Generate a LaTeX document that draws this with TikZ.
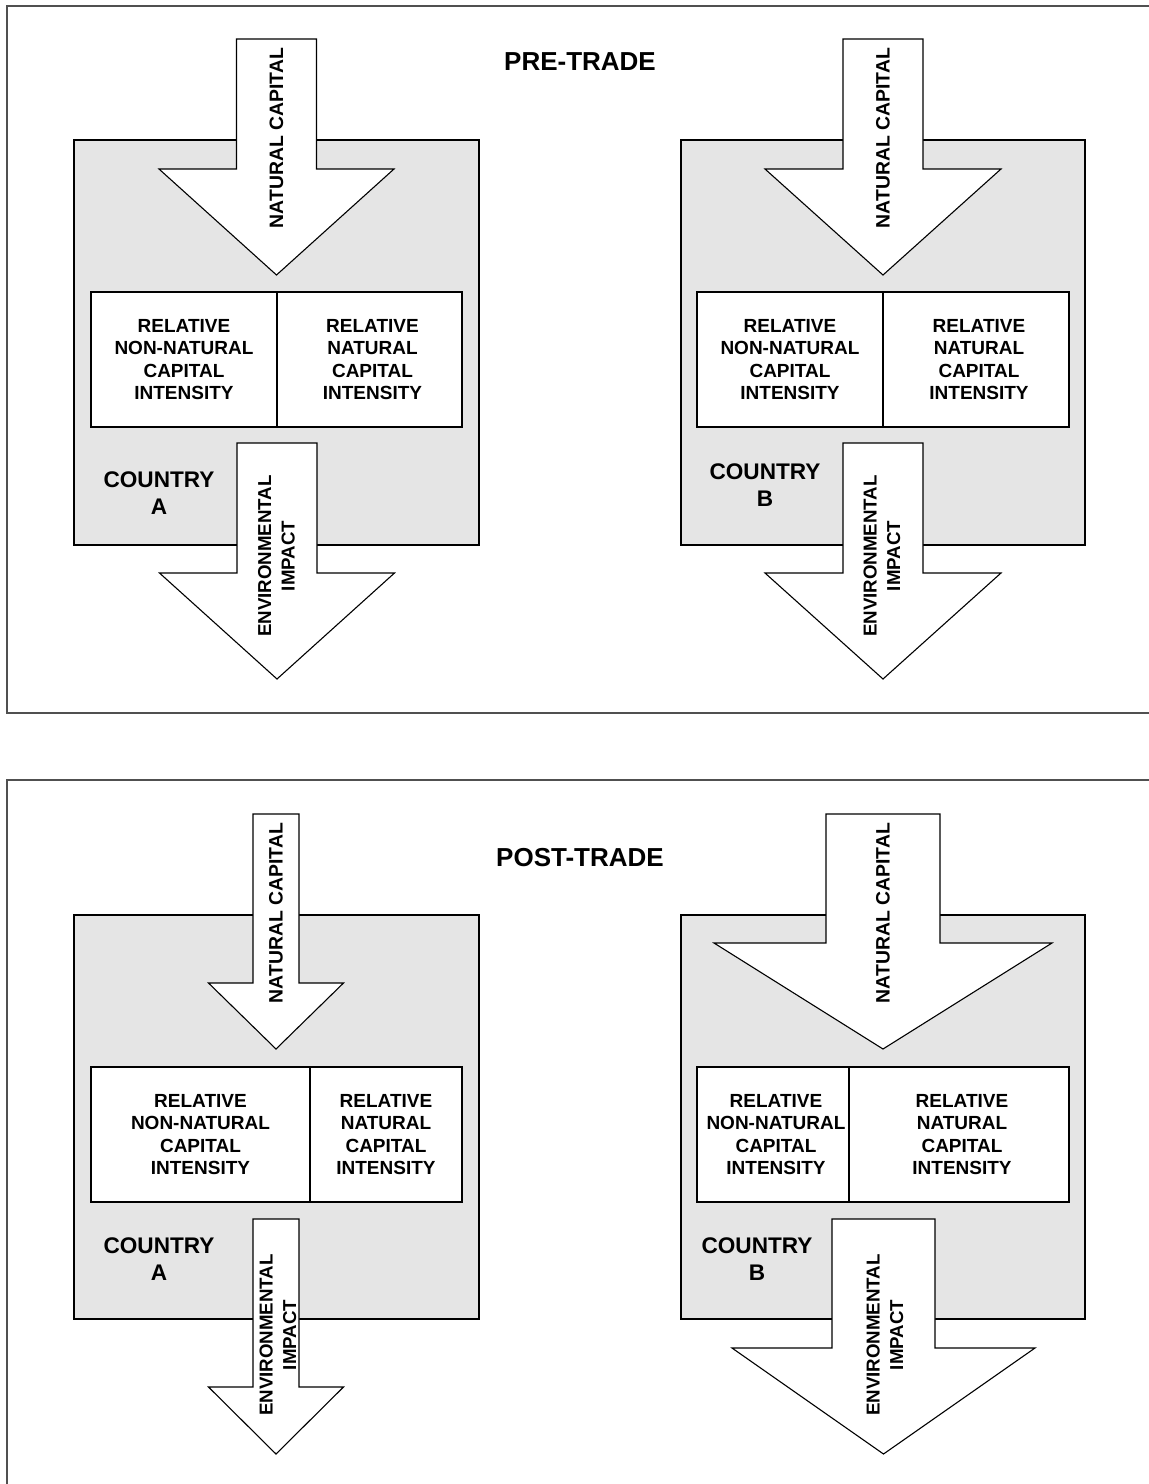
\documentclass[tikz,border=0pt]{standalone}
\usepackage{fontspec}
\setmainfont{Liberation Sans}
\definecolor{countrygray}{HTML}{E5E5E5}
\definecolor{framegray}{HTML}{505050}
% down-pointing block arrow: centre x, top y, shaft half width, head base y, head half width, tip y
\newcommand\flowarrow[6]{%
  \draw[flow] ({#1-#3},#2) -- ({#1+#3},#2) -- ({#1+#3},#4) -- ({#1+#5},#4)
    -- (#1,#6) -- ({#1-#5},#4) -- ({#1-#3},#4) -- cycle;}
\begin{document}
\begin{tikzpicture}[x=1pt,y=-1pt,
  panel/.style={draw=framegray, line width=1.6pt},
  country/.style={draw=black, line width=1.1pt, fill=countrygray},
  flow/.style={draw=black, line width=1.1pt, fill=white, line join=miter},
  cell/.style={draw=black, line width=1.1pt, fill=white, inner sep=0pt,
    font=\bfseries\fontsize{19}{22.5}\selectfont, align=center},
  flowtext/.style={font=\bfseries\fontsize{18.7}{23.5}\selectfont, align=center, rotate=90, inner sep=0pt},
  intext/.style={font=\bfseries\fontsize{19.4}{23.5}\selectfont, rotate=90, inner sep=0pt},
  countrytext/.style={font=\bfseries\fontsize{22.6}{26.5}\selectfont, align=center, inner sep=0pt},
  title/.style={font=\bfseries\fontsize{26}{29}\selectfont, inner sep=0pt}]
\useasboundingbox (0,0) rectangle (1149,1484);
\fill[white] (0,0) rectangle (1149,1484);

% panel frames (open to the right / bottom)
\draw[panel] (1170,6) -- (7,6) -- (7,713) -- (1170,713);
\draw[panel] (1170,780) -- (7,780) -- (7,1500);

% ---------------- pre-trade ----------------
\node[title] (pretitle) at (580,62) {PRE-TRADE};

\draw[country] (74,140) rectangle (479,545);
\flowarrow{276.5}{39}{40}{169}{117.5}{275}
\node[cell, minimum width=186pt, minimum height=135pt] (preAnon) at (184,359.5)
  {RELATIVE\\NON-NATURAL\\CAPITAL\\INTENSITY};
\node[cell, minimum width=185pt, minimum height=135pt] (preAnat) at (369.5,359.5)
  {\hspace*{6pt}RELATIVE\\\hspace*{6pt}NATURAL\\\hspace*{6pt}CAPITAL\\\hspace*{6pt}INTENSITY};
\flowarrow{277}{443}{40}{573}{117.5}{679}
\node[intext] (preAin) at (276.5,138) {NATURAL CAPITAL};
\node[flowtext] (preAout) at (276.5,556) {ENVIRONMENTAL\\IMPACT};
\node[countrytext] (preA) at (159,493) {COUNTRY\\A};

\draw[country] (681,140) rectangle (1085,545);
\flowarrow{883}{39}{40}{169}{118}{275}
\node[cell, minimum width=186pt, minimum height=135pt] (preBnon) at (790,359.5)
  {RELATIVE\\NON-NATURAL\\CAPITAL\\INTENSITY};
\node[cell, minimum width=186pt, minimum height=135pt] (preBnat) at (976,359.5)
  {\hspace*{6pt}RELATIVE\\\hspace*{6pt}NATURAL\\\hspace*{6pt}CAPITAL\\\hspace*{6pt}INTENSITY};
\flowarrow{883}{443}{40}{573}{118}{679}
\node[intext] (preBin) at (883,138) {NATURAL CAPITAL};
\node[flowtext] (preBout) at (882,556) {ENVIRONMENTAL\\IMPACT};
\node[countrytext] (preB) at (765,485) {COUNTRY\\B};

% ---------------- post-trade ----------------
\node[title] (posttitle) at (580,858) {POST-TRADE};

\draw[country] (74,915) rectangle (479,1319);
\flowarrow{276}{814}{23}{983}{67.5}{1049}
\node[cell, minimum width=219pt, minimum height=135pt] (postAnon) at (200.5,1134.5)
  {RELATIVE\\NON-NATURAL\\CAPITAL\\INTENSITY};
\node[cell, minimum width=152pt, minimum height=135pt] (postAnat) at (386,1134.5)
  {RELATIVE\\NATURAL\\CAPITAL\\INTENSITY};
\flowarrow{276}{1219}{23}{1387}{67.5}{1454}
\node[intext] (postAin) at (276,913) {NATURAL CAPITAL};
\node[flowtext] (postAout) at (278,1335) {ENVIRONMENTAL\\IMPACT};
\node[countrytext] (postA) at (159,1259) {COUNTRY\\A};

\draw[country] (681,915) rectangle (1085,1319);
\flowarrow{883}{814}{57}{943}{169}{1049}
\node[cell, minimum width=152pt, minimum height=135pt] (postBnon) at (773,1134.5)
  {\hspace*{6pt}RELATIVE\\\hspace*{6pt}NON-NATURAL\\\hspace*{6pt}CAPITAL\\\hspace*{6pt}INTENSITY};
\node[cell, minimum width=220pt, minimum height=135pt] (postBnat) at (959,1134.5)
  {\hspace*{6pt}RELATIVE\\\hspace*{6pt}NATURAL\\\hspace*{6pt}CAPITAL\\\hspace*{6pt}INTENSITY};
\flowarrow{883.5}{1219}{51.5}{1348}{151.5}{1454}
\node[intext] (postBin) at (883,913) {NATURAL CAPITAL};
\node[flowtext] (postBout) at (885,1335) {ENVIRONMENTAL\\IMPACT};
\node[countrytext] (postB) at (757,1259) {COUNTRY\\B};
\end{tikzpicture}
\end{document}
